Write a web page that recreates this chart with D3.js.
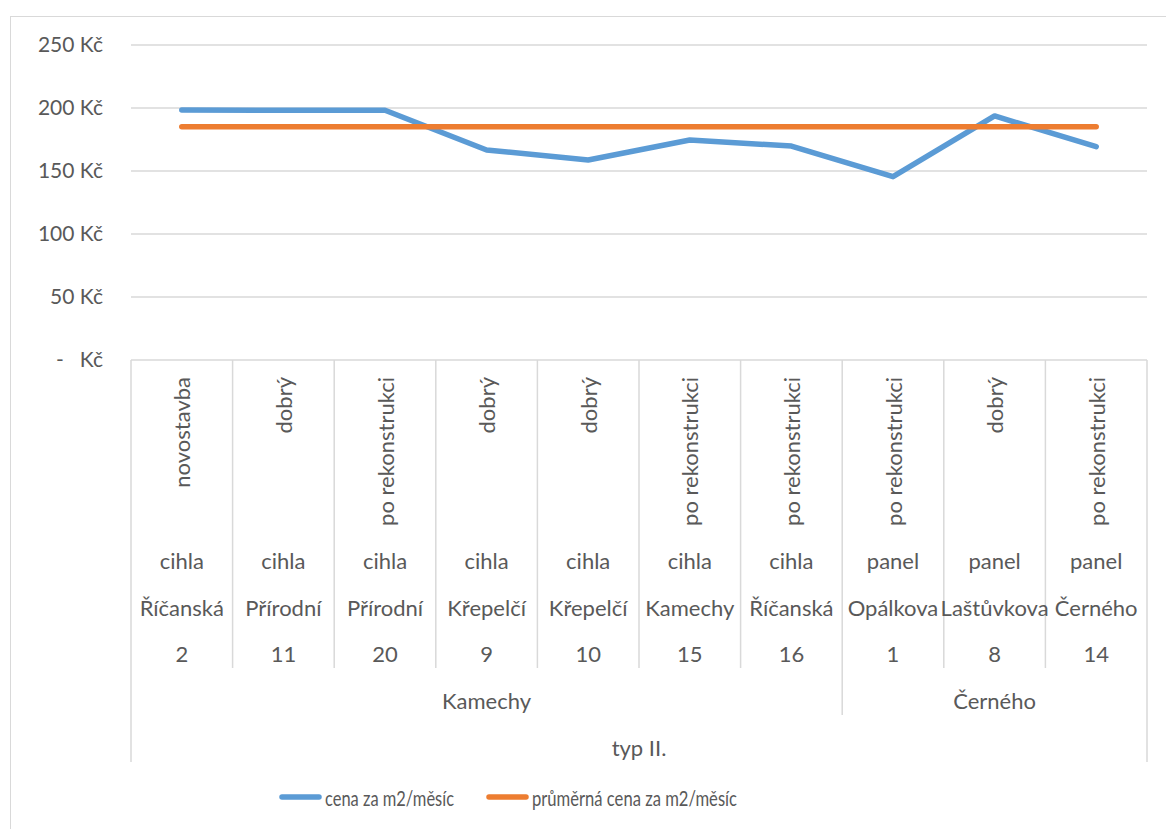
<!DOCTYPE html>
<html>
<head>
<meta charset="utf-8">
<script src="https://cdn.jsdelivr.net/npm/d3@7"></script>
<style>
  body { margin: 0; background: #fff; }
  text { font-family: Lato, "Open Sans", sans-serif; fill: #595959; }
</style>
</head>
<body>
<div id="chart"></div>
<script>
// data
var stav = ["novostavba", "dobrý", "po rekonstrukci", "dobrý", "dobrý", "po rekonstrukci", "po rekonstrukci", "po rekonstrukci", "dobrý", "po rekonstrukci"];
var material = ["cihla", "cihla", "cihla", "cihla", "cihla", "cihla", "cihla", "panel", "panel", "panel"];
var ulice = ["Říčanská", "Přírodní", "Přírodní", "Křepelčí", "Křepelčí", "Kamechy", "Říčanská", "Opálkova", "Laštůvkova", "Černého"];
var cislo = ["2", "11", "20", "9", "10", "15", "16", "1", "8", "14"];
var skupiny = [{ name: "Kamechy", from: 0, to: 6 }, { name: "Černého", from: 7, to: 9 }];
var typ = "typ II.";
var cena = [198.5, 198.2, 198.2, 166.7, 158.7, 174.6, 169.8, 145.5, 193.7, 169.3];
var prumer = [185.2, 185.2, 185.2, 185.2, 185.2, 185.2, 185.2, 185.2, 185.2, 185.2];
var yTicks = [0, 50, 100, 150, 200, 250];
var seriesNames = ["cena za m2/měsíc", "průměrná cena za m2/měsíc"];

var W = 1166, H = 829;
var plotLeft = 131, plotRight = 1147, plotTop = 45, axisY = 360;
var blue = "#5b9bd5", orange = "#ed7d31", grid = "#d9d9d9";
var fs = 22;

var svg = d3.select("#chart").append("svg")
    .attr("width", W)
    .attr("height", H);

// chart area border (only top/left visible in the crop)
svg.append("rect")
    .attr("x", 10.5).attr("y", 16.5)
    .attr("width", W + 20).attr("height", H + 20)
    .attr("fill", "none").attr("stroke", grid);

var idx = d3.range(cena.length);
var x = d3.scaleBand().domain(idx).range([plotLeft, plotRight]).padding(0);
var y = d3.scaleLinear().domain([0, 250]).range([axisY, plotTop]);
var cx = function (i) { return x(i) + x.bandwidth() / 2; };

// gridlines
svg.append("g").selectAll("line")
    .data(yTicks.filter(function (d) { return d > 0; }))
    .enter().append("line")
    .attr("x1", plotLeft).attr("x2", plotRight)
    .attr("y1", function (d) { return y(d); })
    .attr("y2", function (d) { return y(d); })
    .attr("stroke", grid).attr("stroke-width", 1.5);

// y labels
var yAxis = d3.axisLeft(y).tickValues(yTicks).tickSize(0).tickPadding(28)
    .tickFormat(function (d) { return d === 0 ? "-   Kč" : d + " Kč"; });
var yg = svg.append("g").attr("transform", "translate(" + plotLeft + ",0)").call(yAxis);
yg.select(".domain").remove();
yg.selectAll("text")
    .attr("font-size", 21)
    .style("white-space", "pre")
    .attr("fill", "#595959")
    .style("font-family", "Lato, sans-serif");

// category axis lines
var ax = svg.append("g").attr("stroke", grid).attr("stroke-width", 1.5);
ax.append("line").attr("x1", plotLeft).attr("x2", plotRight).attr("y1", axisY).attr("y2", axisY);
idx.slice(1).forEach(function (i) {
    ax.append("line").attr("x1", x(i)).attr("x2", x(i)).attr("y1", axisY).attr("y2", 668);
});
ax.append("line").attr("x1", plotLeft).attr("x2", plotLeft).attr("y1", axisY).attr("y2", 762);
ax.append("line").attr("x1", plotRight).attr("x2", plotRight).attr("y1", axisY).attr("y2", 762);
skupiny.slice(1).forEach(function (g) {
    ax.append("line").attr("x1", x(g.from)).attr("x2", x(g.from)).attr("y1", 668).attr("y2", 715);
});

// rotated condition labels
svg.append("g").selectAll("text")
    .data(stav).enter().append("text")
    .attr("transform", function (d, i) { return "translate(" + cx(i) + ",377) rotate(-90)"; })
    .attr("text-anchor", "end")
    .attr("dominant-baseline", "central")
    .attr("font-size", fs)
    .text(function (d) { return d; });

function row(data, yy) {
    svg.append("g").selectAll("text")
        .data(data).enter().append("text")
        .attr("x", function (d, i) { return cx(i); })
        .attr("y", yy)
        .attr("text-anchor", "middle")
        .attr("dominant-baseline", "central")
        .attr("font-size", fs)
        .text(function (d) { return d; });
}
row(material, 560);
row(ulice, 607);
row(cislo, 653);

svg.append("g").selectAll("text")
    .data(skupiny).enter().append("text")
    .attr("x", function (g) { return (x(g.from) + x(g.to) + x.bandwidth()) / 2; })
    .attr("y", 700)
    .attr("text-anchor", "middle")
    .attr("dominant-baseline", "central")
    .attr("font-size", fs)
    .text(function (g) { return g.name; });

svg.append("text")
    .attr("x", (plotLeft + plotRight) / 2).attr("y", 747)
    .attr("text-anchor", "middle")
    .attr("dominant-baseline", "central")
    .attr("font-size", fs)
    .text(typ);

// series
var line = d3.line().x(function (d, i) { return cx(i); }).y(function (d) { return y(d); });
[[cena, blue], [prumer, orange]].forEach(function (s) {
    svg.append("path")
        .datum(s[0])
        .attr("d", line)
        .attr("fill", "none")
        .attr("stroke", s[1])
        .attr("stroke-width", 5.5)
        .attr("stroke-linecap", "round")
        .attr("stroke-linejoin", "round");
});

// legend
var legend = [
    { name: seriesNames[0], color: blue, x: 280, w: 129 },
    { name: seriesNames[1], color: orange, x: 487, w: 205 }
];
var lg = svg.append("g").selectAll("g").data(legend).enter().append("g")
    .attr("transform", function (d) { return "translate(" + d.x + ",797)"; });
lg.append("line").attr("x1", 2).attr("x2", 39).attr("y1", 0).attr("y2", 0)
    .attr("stroke", function (d) { return d.color; })
    .attr("stroke-width", 5.5).attr("stroke-linecap", "round");
lg.append("text").attr("x", 45).attr("y", 0)
    .attr("dominant-baseline", "central")
    .attr("font-size", 22)
    .attr("textLength", function (d) { return d.w; })
    .attr("lengthAdjust", "spacingAndGlyphs")
    .text(function (d) { return d.name; });
</script>
</body>
</html>
